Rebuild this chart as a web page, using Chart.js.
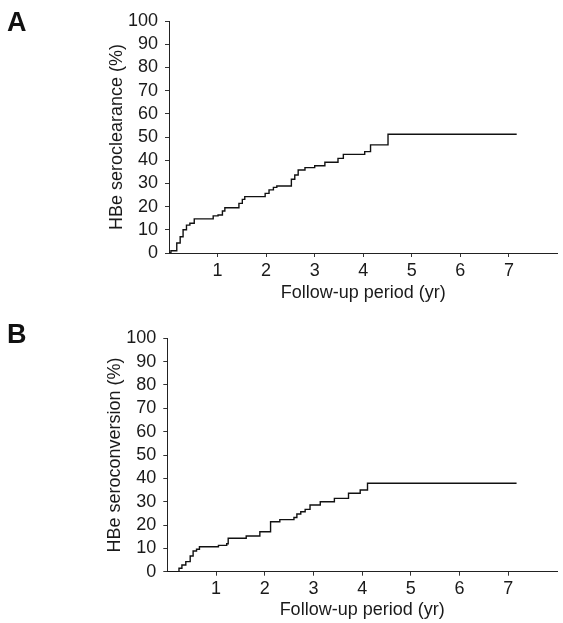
<!DOCTYPE html>
<html>
<head>
<meta charset="utf-8">
<script src="https://cdn.jsdelivr.net/npm/chart.js@4"></script>
<style>
  html, body { margin: 0; padding: 0; background: #fff; }
  #page { position: relative; width: 563px; height: 623px; overflow: hidden; }
  .panel { position: absolute; left: 0; width: 563px; }
  .tag { position: absolute; left: 7px; font: bold 27px "Liberation Sans", Arial, sans-serif; color: #111; }
</style>
</head>
<body>
<div id="page">
  <div class="panel" style="top:0;height:311px"><canvas id="chartA" width="563" height="311"></canvas></div>
  <div class="panel" style="top:311px;height:312px"><canvas id="chartB" width="563" height="312"></canvas></div>
  <div class="tag" style="top:7px">A</div>
  <div class="tag" style="top:319px">B</div>
</div>
<script>
// panel A - HBe seroclearance, step times (yr) and cumulative %
const timesA = [0, 0.04, 0.16, 0.23, 0.29, 0.36, 0.43, 0.52, 0.91, 1.01, 1.10, 1.15, 1.44, 1.51, 1.56,
  1.98, 2.06, 2.15, 2.22, 2.52, 2.59, 2.66, 2.80, 3.00, 3.21, 3.48, 3.59, 4.03, 4.15, 4.51, 7.16];
const valuesA = [0, 1, 4.3, 7, 10, 12, 12.8, 14.7, 16, 16.4, 18.1, 19.5, 21.4, 23.1, 24.3,
  25.7, 27.2, 28.3, 28.9, 31.8, 33.6, 35.8, 36.8, 37.6, 39.1, 40.8, 42.5, 43.7, 46.6, 51.2, 51.2];

// panel B - HBe seroconversion
const timesB = [0, 0.19, 0.24, 0.30, 0.38, 0.47, 0.53, 0.60, 0.66, 1.05, 1.22, 1.25, 1.62, 1.90,
  2.12, 2.31, 2.60, 2.66, 2.74, 2.83, 2.93, 3.14, 3.43, 3.72, 3.96, 4.11, 7.17];
const valuesB = [0, 0, 1.5, 2.9, 4.3, 6.7, 8.9, 9.6, 10.7, 11.3, 12.0, 14.3, 15.3, 17.1,
  21.4, 22.3, 23.2, 24.7, 25.7, 26.7, 28.6, 30.0, 31.4, 33.6, 35.0, 37.9, 37.9];

const xTicks = [1, 2, 3, 4, 5, 6, 7];
const yTicks = [0, 10, 20, 30, 40, 50, 60, 70, 80, 90, 100];
const xTitle = "Follow-up period (yr)";
const yTitleA = "HBe seroclearance (%)";
const yTitleB = "HBe seroconversion (%)";

const FONT = { family: '"Liberation Sans", Arial, sans-serif', size: 18 };
const INK = "#1a1a1a";

function makePanel(id, times, values, yTitle, g) {
  const pts = times.map((t, i) => ({ x: t, y: values[i] }));
  return new Chart(document.getElementById(id), {
    type: "line",
    data: {
      datasets: [{
        data: pts,
        stepped: true,
        borderColor: "#111",
        borderWidth: 1.4,
        pointRadius: 0,
        fill: false,
      }],
    },
    options: {
      responsive: false,
      animation: false,
      devicePixelRatio: 1,
      layout: { padding: { top: g.top, right: g.right, left: g.left, bottom: g.bottom } },
      plugins: { legend: { display: false }, tooltip: { enabled: false } },
      scales: {
        x: {
          type: "linear",
          min: 0,
          max: 8,
          afterBuildTicks: (s) => { s.ticks = xTicks.map(v => ({ value: v })); },
          afterFit: (s) => { s.height = g.xh; },
          grid: { drawOnChartArea: false, drawTicks: true, tickLength: 4, color: "#333" },
          border: { display: true, color: "#222", width: 1 },
          ticks: { padding: 3, color: INK, font: FONT, maxRotation: 0, autoSkip: false },
          title: { display: true, text: xTitle, color: INK, font: FONT, padding: { top: 0, bottom: 0 } },
        },
        y: {
          type: "linear",
          min: 0,
          max: 100,
          afterBuildTicks: (s) => { s.ticks = yTicks.map(v => ({ value: v })); },
          afterFit: (s) => { s.width = g.yw; },
          grid: { drawOnChartArea: false, drawTicks: true, tickLength: 4, color: "#333" },
          border: { display: true, color: "#222", width: 1 },
          ticks: { padding: 7, color: INK, font: FONT, autoSkip: false },
          title: { display: true, text: yTitle, color: INK, font: FONT, padding: { top: 0, bottom: 0 } },
        },
      },
    },
  });
}

makePanel("chartA", timesA, valuesA, yTitleA, { top: 21, right: 5.5, left: 106.7, bottom: 7, yw: 62.3, xh: 51 });
makePanel("chartB", timesB, valuesB, yTitleB, { top: 27.3, right: 6, left: 104.2, bottom: 2.2, yw: 63.1, xh: 49.1 });
</script>
</body>
</html>
